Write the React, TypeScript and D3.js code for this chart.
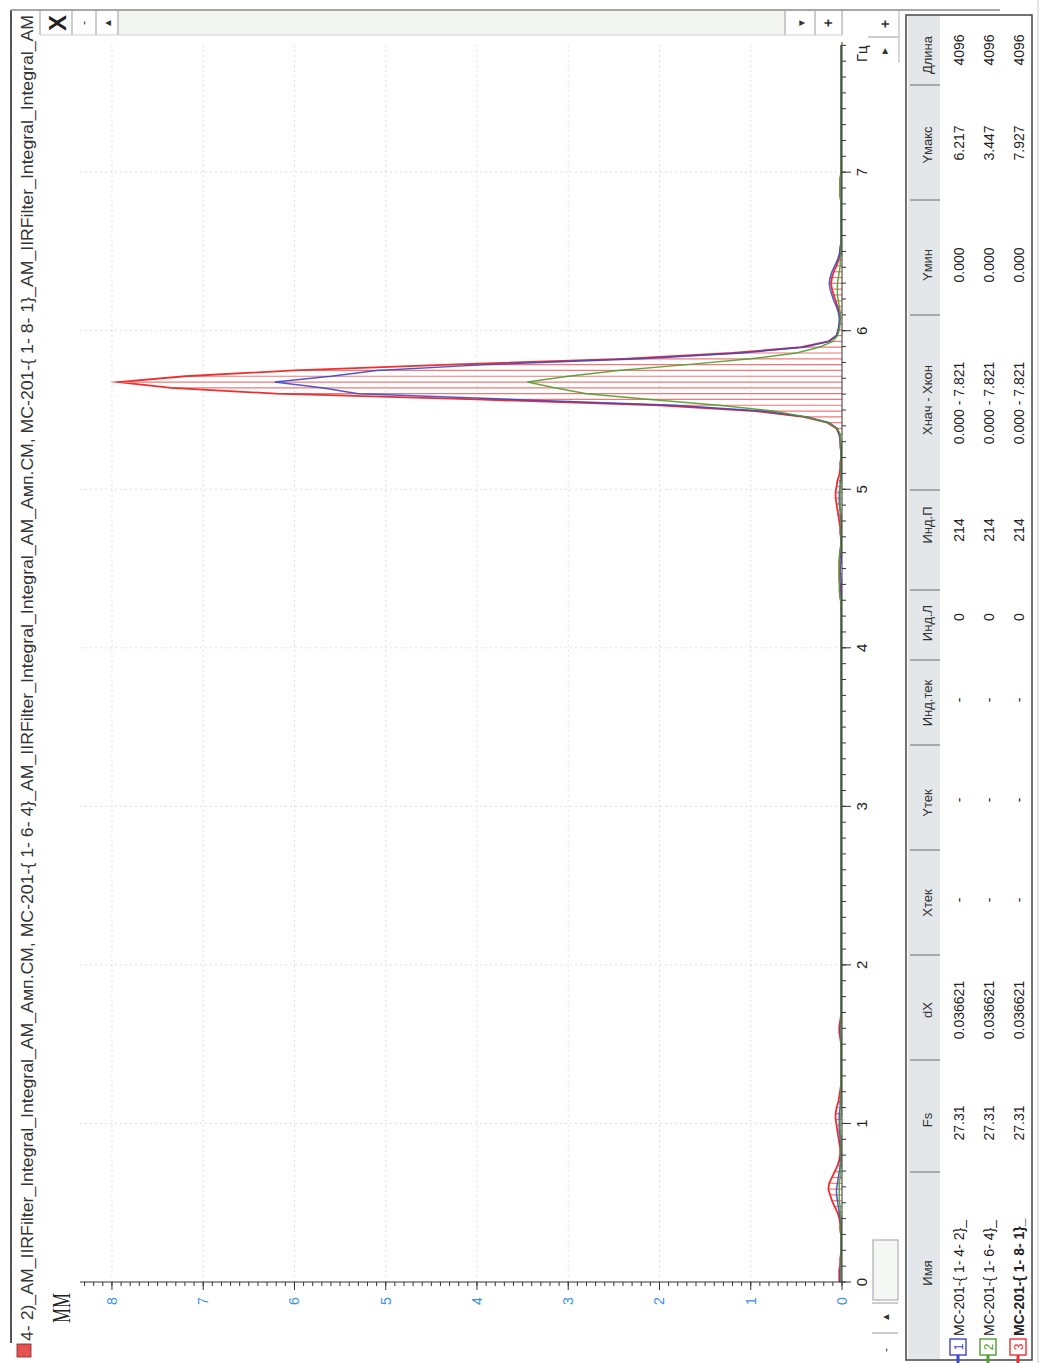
import React from 'react';
import * as d3 from 'd3';

const PAGE_W = 1048;
const PAGE_H = 1363;

// Sampling of the spectra
const DX = 0.036621;
const X_START = 0;
const X_END = 7.821;
const Y_TOP = 8.35;

const hzTicks = [0, 1, 2, 3, 4, 5, 6, 7];
const mmTicks = [0, 1, 2, 3, 4, 5, 6, 7, 8];

// МС-201-{ 1- 4- 2}_  (214 samples, step DX)
const series1 = [
  0.02, 0.02, 0.02, 0.01, 0.01, 0.01, 0.01, 0.01, 0.01, 0.01,
  0.01, 0.02, 0.03, 0.04, 0.05, 0.06, 0.06, 0.05, 0.04, 0.03,
  0.02, 0.02, 0.01, 0.01, 0.02, 0.02, 0.03, 0.03, 0.03, 0.03,
  0.02, 0.02, 0.01, 0.01, 0.01, 0.01, 0.01, 0.01, 0.01, 0.01,
  0.01, 0.01, 0.01, 0.02, 0.02, 0.01, 0.01, 0.01, 0.01, 0.01,
  0.01, 0.01, 0.01, 0.01, 0.01, 0.01, 0.01, 0.01, 0.01, 0.01,
  0.01, 0.01, 0.01, 0.01, 0.01, 0.01, 0.01, 0.01, 0.01, 0.01,
  0.01, 0.01, 0.01, 0.01, 0.01, 0.01, 0.01, 0.01, 0.01, 0.01,
  0.01, 0.01, 0.01, 0.01, 0.01, 0.01, 0.01, 0.01, 0.01, 0.01,
  0.01, 0.01, 0.01, 0.01, 0.01, 0.01, 0.01, 0.01, 0.01, 0.01,
  0.01, 0.01, 0.01, 0.01, 0.01, 0.01, 0.01, 0.01, 0.01, 0.01,
  0.01, 0.01, 0.01, 0.01, 0.01, 0.01, 0.01, 0.01, 0.01, 0.01,
  0.01, 0.01, 0.02, 0.02, 0.01, 0.01, 0.01, 0.01, 0.01, 0.01,
  0.01, 0.01, 0.02, 0.02, 0.03, 0.03, 0.03, 0.02, 0.02, 0.01,
  0.01, 0.01, 0.01, 0.01, 0.01, 0.02, 0.03, 0.05, 0.14, 0.38,
  0.88, 1.85, 3.6, 5.3, 5.7, 6.217, 5.6, 5.1, 3.9, 2.2,
  1.1, 0.42, 0.14, 0.06, 0.04, 0.03, 0.03, 0.04, 0.06, 0.09,
  0.11, 0.13, 0.14, 0.13, 0.11, 0.08, 0.05, 0.03, 0.02, 0.01,
  0.01, 0.01, 0.01, 0.01, 0.01, 0.01, 0.01, 0.01, 0.01, 0.01,
  0.01, 0.01, 0.01, 0.01, 0.01, 0.01, 0.01, 0.01, 0.01, 0.01,
  0.01, 0.01, 0.01, 0.01, 0.01, 0.01, 0.01, 0.01, 0.01, 0.01,
  0.01, 0.01, 0.01, 0.01,
];

// МС-201-{ 1- 6- 4}_
const series2 = [
  0.01, 0.01, 0.01, 0.01, 0.01, 0.01, 0.01, 0.01, 0.01, 0.01,
  0.01, 0.01, 0.02, 0.02, 0.03, 0.03, 0.03, 0.03, 0.02, 0.02,
  0.01, 0.01, 0.01, 0.01, 0.01, 0.01, 0.02, 0.02, 0.02, 0.01,
  0.01, 0.01, 0.01, 0.01, 0.01, 0.01, 0.01, 0.01, 0.01, 0.01,
  0.01, 0.01, 0.01, 0.01, 0.01, 0.01, 0.01, 0.01, 0.01, 0.01,
  0.01, 0.01, 0.01, 0.01, 0.01, 0.01, 0.01, 0.01, 0.01, 0.01,
  0.01, 0.01, 0.01, 0.01, 0.01, 0.01, 0.01, 0.01, 0.01, 0.01,
  0.01, 0.01, 0.01, 0.01, 0.01, 0.01, 0.01, 0.01, 0.01, 0.01,
  0.01, 0.01, 0.01, 0.01, 0.01, 0.01, 0.01, 0.01, 0.01, 0.01,
  0.01, 0.01, 0.01, 0.01, 0.01, 0.01, 0.01, 0.01, 0.01, 0.01,
  0.01, 0.01, 0.01, 0.01, 0.01, 0.01, 0.01, 0.01, 0.01, 0.01,
  0.01, 0.01, 0.01, 0.01, 0.01, 0.01, 0.01, 0.01, 0.02, 0.03,
  0.03, 0.03, 0.03, 0.03, 0.03, 0.03, 0.02, 0.01, 0.01, 0.01,
  0.01, 0.01, 0.01, 0.02, 0.02, 0.02, 0.02, 0.02, 0.01, 0.01,
  0.01, 0.01, 0.01, 0.01, 0.01, 0.02, 0.02, 0.05, 0.15, 0.4,
  0.75, 1.35, 2.1, 2.8, 3.15, 3.447, 3.0, 2.45, 1.7, 1.0,
  0.5, 0.25, 0.1, 0.05, 0.03, 0.02, 0.02, 0.02, 0.03, 0.04,
  0.05, 0.05, 0.05, 0.04, 0.03, 0.02, 0.02, 0.01, 0.01, 0.01,
  0.01, 0.01, 0.01, 0.01, 0.01, 0.01, 0.01, 0.02, 0.02, 0.02,
  0.02, 0.01, 0.01, 0.01, 0.01, 0.01, 0.01, 0.01, 0.01, 0.01,
  0.01, 0.01, 0.01, 0.01, 0.01, 0.01, 0.01, 0.01, 0.01, 0.01,
  0.01, 0.01, 0.01, 0.01,
];

// МС-201-{ 1- 8- 1}_
const series3 = [
  0.03, 0.03, 0.03, 0.02, 0.02, 0.01, 0.01, 0.01, 0.01, 0.02,
  0.02, 0.03, 0.05, 0.08, 0.11, 0.13, 0.15, 0.14, 0.11, 0.08,
  0.05, 0.03, 0.02, 0.02, 0.03, 0.04, 0.05, 0.06, 0.07, 0.07,
  0.06, 0.04, 0.03, 0.02, 0.01, 0.01, 0.01, 0.01, 0.01, 0.01,
  0.01, 0.01, 0.02, 0.03, 0.03, 0.02, 0.01, 0.01, 0.01, 0.01,
  0.01, 0.01, 0.01, 0.01, 0.01, 0.01, 0.01, 0.01, 0.01, 0.01,
  0.01, 0.01, 0.01, 0.01, 0.01, 0.01, 0.01, 0.01, 0.01, 0.01,
  0.01, 0.01, 0.01, 0.01, 0.01, 0.01, 0.01, 0.01, 0.01, 0.01,
  0.01, 0.01, 0.01, 0.01, 0.01, 0.01, 0.01, 0.01, 0.01, 0.01,
  0.01, 0.01, 0.01, 0.01, 0.01, 0.01, 0.01, 0.01, 0.01, 0.01,
  0.01, 0.01, 0.01, 0.01, 0.01, 0.01, 0.01, 0.01, 0.01, 0.01,
  0.01, 0.01, 0.01, 0.01, 0.01, 0.01, 0.01, 0.01, 0.02, 0.02,
  0.02, 0.03, 0.03, 0.03, 0.03, 0.02, 0.02, 0.01, 0.01, 0.02,
  0.02, 0.03, 0.04, 0.05, 0.06, 0.07, 0.07, 0.06, 0.05, 0.03,
  0.02, 0.02, 0.01, 0.01, 0.02, 0.02, 0.03, 0.06, 0.16, 0.42,
  0.95, 2.0, 4.0, 6.2, 7.35, 7.927, 7.2, 6.0, 4.3, 2.4,
  1.2, 0.45, 0.15, 0.06, 0.04, 0.03, 0.02, 0.03, 0.05, 0.07,
  0.09, 0.11, 0.12, 0.11, 0.09, 0.06, 0.04, 0.02, 0.02, 0.01,
  0.01, 0.01, 0.01, 0.01, 0.01, 0.01, 0.01, 0.02, 0.02, 0.02,
  0.02, 0.01, 0.01, 0.01, 0.01, 0.01, 0.01, 0.01, 0.01, 0.01,
  0.01, 0.01, 0.01, 0.01, 0.01, 0.01, 0.01, 0.01, 0.01, 0.01,
  0.01, 0.01, 0.01, 0.01,
];

const seriesColors = ['#3b46c8', '#4e9f2e', '#ee2f2f'];
const stemColor = '#f37777';

const chartTitle =
  '4- 2)_AM_IIRFilter_Integral_Integral_AM_Амп.СМ, МС-201-{ 1- 6- 4}_AM_IIRFilter_Integral_Integral_AM_Амп.СМ, МС-201-{ 1- 8- 1}_AM_IIRFilter_Integral_Integral_AM';

// Table below the plot
const columnHeaders = ['Имя', 'Fs', 'dX', 'Xтек', 'Yтек', 'Инд.тек', 'Инд.Л', 'Инд.П', 'Xнач - Xкон', 'Yмин', 'Yмакс', 'Длина'];
const seriesNames = ['МС-201-{ 1- 4- 2}_', 'МС-201-{ 1- 6- 4}_', 'МС-201-{ 1- 8- 1}_'];
const fsValues = ['27.31', '27.31', '27.31'];
const dxValues = ['0.036621', '0.036621', '0.036621'];
const xCurValues = ['-', '-', '-'];
const yCurValues = ['-', '-', '-'];
const indCurValues = ['-', '-', '-'];
const indLeftValues = ['0', '0', '0'];
const indRightValues = ['214', '214', '214'];
const xRangeValues = ['0.000 - 7.821', '0.000 - 7.821', '0.000 - 7.821'];
const yMinValues = ['0.000', '0.000', '0.000'];
const yMaxValues = ['6.217', '3.447', '7.927'];
const lengthValues = ['4096', '4096', '4096'];

// column layout (horizontal positions in the unrotated frame)
const colEdges = [3, 191, 303, 408, 513, 618, 703, 773, 873, 1048, 1163, 1278, 1348];
const headerCenters = [90, 243, 353, 460, 560, 660, 740, 838, 963, 1098, 1218, 1308];
const valueCenters = [0, 240, 353, 463, 563, 663, 746, 833, 960, 1098, 1220, 1313];

export default function App() {
  // Unrotated frame: width PAGE_H, height PAGE_W; then turned 90° counter-clockwise.
  const x = d3.scaleLinear().domain([X_START, X_END]).range([81, 1321]);
  const y = d3.scaleLinear().domain([0, Y_TOP]).range([842, 80]);

  const toPts = (vals: number[]) => vals.map((v, i) => [i * DX, v] as [number, number]);
  const specLine = d3
    .line<[number, number]>()
    .x((d) => x(d[0]))
    .y((d) => y(d[1]))
    .curve(d3.curveLinear);

  const hzMinor = d3.range(0, 79).map((i) => i / 10).filter((t) => t <= X_END);
  const mmMinor = d3.range(0, 84).map((i) => i / 10);

  const rows = seriesNames.map((name, i) => [
    name,
    fsValues[i],
    dxValues[i],
    xCurValues[i],
    yCurValues[i],
    indCurValues[i],
    indLeftValues[i],
    indRightValues[i],
    xRangeValues[i],
    yMinValues[i],
    yMaxValues[i],
    lengthValues[i],
  ]);
  const rowBaselines = [964, 994, 1024];

  const sans = "'Liberation Sans', Arial, sans-serif";

  return (
    <svg
      width={PAGE_W}
      height={PAGE_H}
      style={{ position: 'absolute', left: 0, top: 0, display: 'block' }}
      fontFamily={sans}
    >
      <rect x={0} y={0} width={PAGE_W} height={PAGE_H} fill="#ffffff" />
      <g transform={`translate(0,${PAGE_H}) rotate(-90)`}>
        {/* window frame */}
        <line x1={20} x2={1353} y1={11} y2={11} stroke="#555" strokeWidth={2} />
        <line x1={1353} x2={1353} y1={11} y2={1000} stroke="#8a8a8a" strokeWidth={1.5} />
        <line x1={0} x2={1363} y1={1038} y2={1038} stroke="#c8c8c8" strokeWidth={1} />

        {/* title */}
        <rect x={6} y={17} width={13} height={14} fill="#e65252" stroke="#7a2020" strokeWidth={0.8} />
        <text x={22} y={33} fontSize={16} fill="#333" textLength={1326} lengthAdjust="spacingAndGlyphs">
          {chartTitle}
        </text>

        {/* right-hand scroll strip */}
        <rect x={1328} y={118} width={24} height={667} fill="#f2f5f0" />
        {[40, 72, 96, 118, 785, 815, 842].map((v) => (
          <line key={`sep${v}`} x1={1328} x2={1352} y1={v} y2={v} stroke="#9a9a9a" strokeWidth={1} />
        ))}
        <line x1={1328} x2={1328} y1={40} y2={842} stroke="#d0d0d0" strokeWidth={1} />
        <text x={1340} y={66} fontSize={24} fontWeight="bold" textAnchor="middle" fill="#222">X</text>
        <text x={1340} y={88} fontSize={12} textAnchor="middle" fill="#333">-</text>
        <text x={1340} y={111} fontSize={10} textAnchor="middle" fill="#333">▲</text>
        <text x={1340} y={805} fontSize={10} textAnchor="middle" fill="#333">▼</text>
        <text x={1340} y={833} fontSize={14} fontWeight="bold" textAnchor="middle" fill="#333">+</text>

        {/* lower scroll strip */}
        <line x1={1326} x2={1326} y1={868} y2={898} stroke="#9a9a9a" strokeWidth={1} />
        <line x1={1300} x2={1353} y1={899} y2={899} stroke="#b0b0b0" strokeWidth={1} />
        <text x={1312} y={888} fontSize={10} textAnchor="middle" fill="#333">►</text>
        <text x={1339} y={890} fontSize={14} fontWeight="bold" textAnchor="middle" fill="#333">+</text>
        <rect x={63} y={873} width={60} height={25} fill="#f5f7f5" stroke="#a0a0a0" strokeWidth={1} />
        <line x1={30} x2={30} y1={872} y2={898} stroke="#9a9a9a" strokeWidth={1} />
        <line x1={60} x2={60} y1={872} y2={898} stroke="#9a9a9a" strokeWidth={1} />
        <text x={13} y={890} fontSize={12} textAnchor="middle" fill="#333">-</text>
        <text x={46} y={889} fontSize={10} textAnchor="middle" fill="#333">▲</text>

        {/* grid */}
        {hzTicks.slice(1).map((t) => (
          <line key={`gx${t}`} x1={x(t)} x2={x(t)} y1={80} y2={842} stroke="#e0e0e0" strokeWidth={1} strokeDasharray="2,3" />
        ))}
        {mmTicks.slice(1).map((t) => (
          <line key={`gy${t}`} x1={81} x2={1321} y1={y(t)} y2={y(t)} stroke="#e0e0e0" strokeWidth={1} strokeDasharray="2,3" />
        ))}

        {/* red series drop lines */}
        {series3.map((v, i) => (
          <line key={`stem${i}`} x1={x(i * DX)} x2={x(i * DX)} y1={y(0)} y2={y(v)} stroke={stemColor} strokeWidth={1.2} />
        ))}

        {/* spectra */}
        <path d={specLine(toPts(series3)) || ''} fill="none" stroke={seriesColors[2]} strokeWidth={1.8} strokeLinejoin="miter" strokeMiterlimit={20} />
        <path d={specLine(toPts(series1)) || ''} fill="none" stroke={seriesColors[0]} strokeWidth={1.5} opacity={0.9} />
        <path d={specLine(toPts(series2)) || ''} fill="none" stroke={seriesColors[1]} strokeWidth={1.5} opacity={0.9} />

        {/* frequency axis */}
        <line x1={81} x2={1321} y1={842} y2={842} stroke="#333" strokeWidth={1} />
        {hzMinor.map((t) => (
          <line key={`hm${t}`} x1={x(t)} x2={x(t)} y1={842} y2={846} stroke="#333" strokeWidth={1} />
        ))}
        {hzTicks.map((t) => (
          <g key={`hz${t}`}>
            <line x1={x(t)} x2={x(t)} y1={842} y2={851} stroke="#333" strokeWidth={1} />
            <text x={x(t)} y={867} fontSize={15} textAnchor="middle" fill="#222">{t}</text>
          </g>
        ))}
        <text x={1301} y={867} fontSize={15} fill="#222">Гц</text>

        {/* amplitude axis */}
        <line x1={81} x2={81} y1={80} y2={842} stroke="#333" strokeWidth={1} />
        {mmMinor.map((t) => (
          <line key={`mm${t}`} x1={81} x2={77} y1={y(t)} y2={y(t)} stroke="#333" strokeWidth={1} />
        ))}
        {mmTicks.map((t) => (
          <g key={`my${t}`}>
            <line x1={81} x2={73} y1={y(t)} y2={y(t)} stroke="#333" strokeWidth={1} />
            <text x={62} y={y(t) + 5} fontSize={14} textAnchor="middle" fill="#3d8fe0">{t}</text>
          </g>
        ))}
        <text x={40} y={70} fontSize={25} fontFamily="'Liberation Serif', 'Times New Roman', serif" fill="#222" textLength={30} lengthAdjust="spacingAndGlyphs">MM</text>

        {/* table */}
        <rect x={3} y={906} width={1345} height={126} fill="#fff" stroke="#444" strokeWidth={1.5} />
        <rect x={4} y={908} width={1343} height={32} fill="#e3e7ea" />
        {colEdges.slice(1, -1).map((u) => (
          <line key={`ce${u}`} x1={u} x2={u} y1={910} y2={940} stroke="#6a6a6a" strokeWidth={1} />
        ))}
        {columnHeaders.map((h, i) => (
          <text key={`h${i}`} x={headerCenters[i]} y={932} fontSize={13} textAnchor="middle" fill="#333">{h}</text>
        ))}
        {rows.map((row, r) => (
          <g key={`row${r}`}>
            <line x1={0} x2={8} y1={rowBaselines[r] - 6} y2={rowBaselines[r] - 6} stroke={seriesColors[r]} strokeWidth={3} />
            <rect x={8} y={rowBaselines[r] - 14} width={16} height={16} fill="#fff" stroke={seriesColors[r]} strokeWidth={1.4} />
            <text x={16} y={rowBaselines[r] - 1} fontSize={12} textAnchor="middle" fill={seriesColors[r]}>{r + 1}</text>
            <text x={27} y={rowBaselines[r]} fontSize={14} fill="#222" fontWeight={r === 2 ? 'bold' : 'normal'}>{row[0]}</text>
            {row.slice(1).map((cell, c) => (
              <text key={`c${c}`} x={valueCenters[c + 1]} y={rowBaselines[r]} fontSize={14} textAnchor="middle" fill="#222">{cell}</text>
            ))}
          </g>
        ))}
      </g>
    </svg>
  );
}
